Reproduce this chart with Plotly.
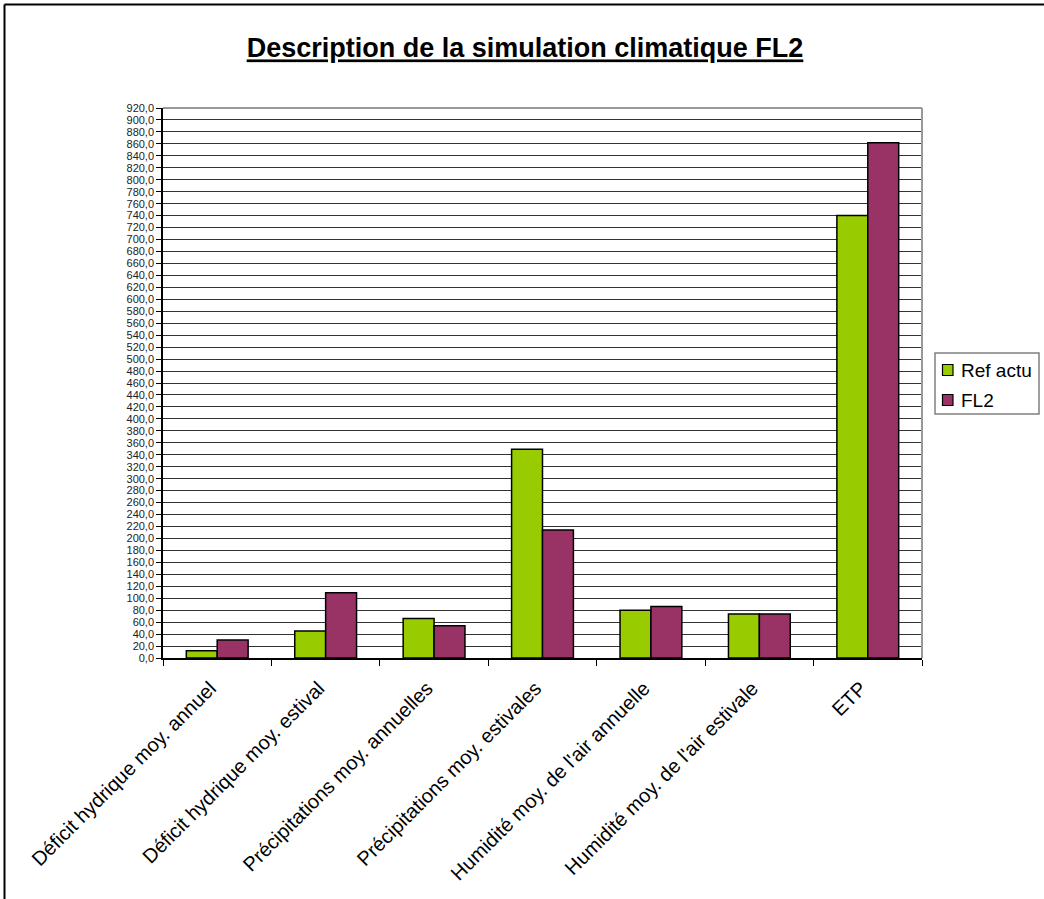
import plotly.graph_objects as go

# Climate indicators compared between the current reference and the FL2 scenario
categories = [
    "Déficit hydrique moy. annuel",
    "Déficit hydrique moy. estival",
    "Précipitations moy. annuelles",
    "Précipitations moy. estivales",
    "Humidité moy. de l'air annuelle",
    "Humidité moy. de l'air estivale",
    "ETP",
]
ref_actu = [12, 45, 66, 349, 80, 73.5, 740]
fl2 = [30, 109, 54, 214, 86, 73.5, 862]

series_names = ["Ref actu", "FL2"]
series_colors = ["#99CC00", "#993366"]

y_ticks = list(range(0, 921, 20))

FONT = "Liberation Sans, Arial, sans-serif"

# plot-area geometry in pixels (used to place frame and legend in paper units)
W, H = 1044, 899
L, R, T, B = 163, 122, 108, 241
PW, PH = W - L - R, H - T - B


def px_x(x):
    return (x - L) / PW


def px_y(y):
    return (H - B - y) / PH


fig = go.Figure()
for name, vals, col in zip(series_names, [ref_actu, fl2], series_colors):
    fig.add_trace(go.Bar(
        name=name, x=categories, y=vals,
        marker=dict(color=col, line=dict(color="black", width=1.5)),
    ))

shapes = [
    # plot area frame (top and right edges)
    dict(type="line", xref="paper", yref="paper", x0=0, x1=1, y0=1, y1=1,
         line=dict(color="#999", width=2)),
    dict(type="line", xref="paper", yref="paper", x0=1, x1=1, y0=0, y1=1,
         line=dict(color="#999", width=2)),
    # outer chart frame
    dict(type="line", xref="paper", yref="paper",
         x0=px_x(4.5), x1=px_x(4.5), y0=px_y(4.5), y1=px_y(H + 5),
         line=dict(color="black", width=2)),
    dict(type="line", xref="paper", yref="paper",
         x0=px_x(4.5), x1=px_x(W + 5), y0=px_y(4.5), y1=px_y(4.5),
         line=dict(color="black", width=2)),
    # legend box
    dict(type="rect", xref="paper", yref="paper",
         x0=px_x(935), x1=px_x(1039), y0=px_y(353), y1=px_y(414),
         line=dict(color="#808080", width=1.5), fillcolor="white"),
]
annotations = []
for i, (name, col) in enumerate(zip(series_names, series_colors)):
    cy = 370 + i * 30
    shapes.append(dict(
        type="rect", xref="paper", yref="paper",
        x0=px_x(942.5), x1=px_x(953), y0=px_y(cy - 5.5), y1=px_y(cy + 5.5),
        line=dict(color="black", width=1.2), fillcolor=col,
    ))
    annotations.append(dict(
        text=name, xref="paper", yref="paper",
        x=px_x(959), y=px_y(cy), xanchor="left", yanchor="middle",
        showarrow=False, font=dict(size=19, family=FONT, color="black"),
    ))

fig.update_layout(
    width=W, height=H,
    margin=dict(l=L, r=R, t=T, b=B, autoexpand=False),
    paper_bgcolor="white", plot_bgcolor="white",
    separators=", ",
    barmode="group", bargap=0.43, bargroupgap=0.0,
    font=dict(family=FONT, color="black"),
    title=dict(
        text="<b><u>Description de la simulation climatique FL2</u></b>",
        x=px_x(525), xanchor="center", xref="paper",
        y=1 - 48 / H, yanchor="middle", yref="container",
        font=dict(size=27, family=FONT, color="black"),
    ),
    showlegend=False,
    xaxis=dict(
        type="category",
        tickangle=-45,
        tickfont=dict(size=20, family=FONT, color="black"),
        ticklabelshift=-7, ticklabelstandoff=9,
        showline=True, linecolor="black", linewidth=1.5,
        mirror=False,
        ticks="outside", ticklen=6, tickcolor="black",
        tickson="boundaries",
        showgrid=False,
    ),
    yaxis=dict(
        range=[0, 920],
        tickvals=y_ticks,
        tickformat=".1f",
        tickfont=dict(size=11, family=FONT, color="#222"),
        showline=True, linecolor="black", linewidth=1.5,
        ticks="outside", ticklen=5, tickcolor="black",
        showgrid=True, gridcolor="#333", gridwidth=1,
        zeroline=False,
    ),
    shapes=shapes,
    annotations=annotations,
)

fig.write_html("out.html")
